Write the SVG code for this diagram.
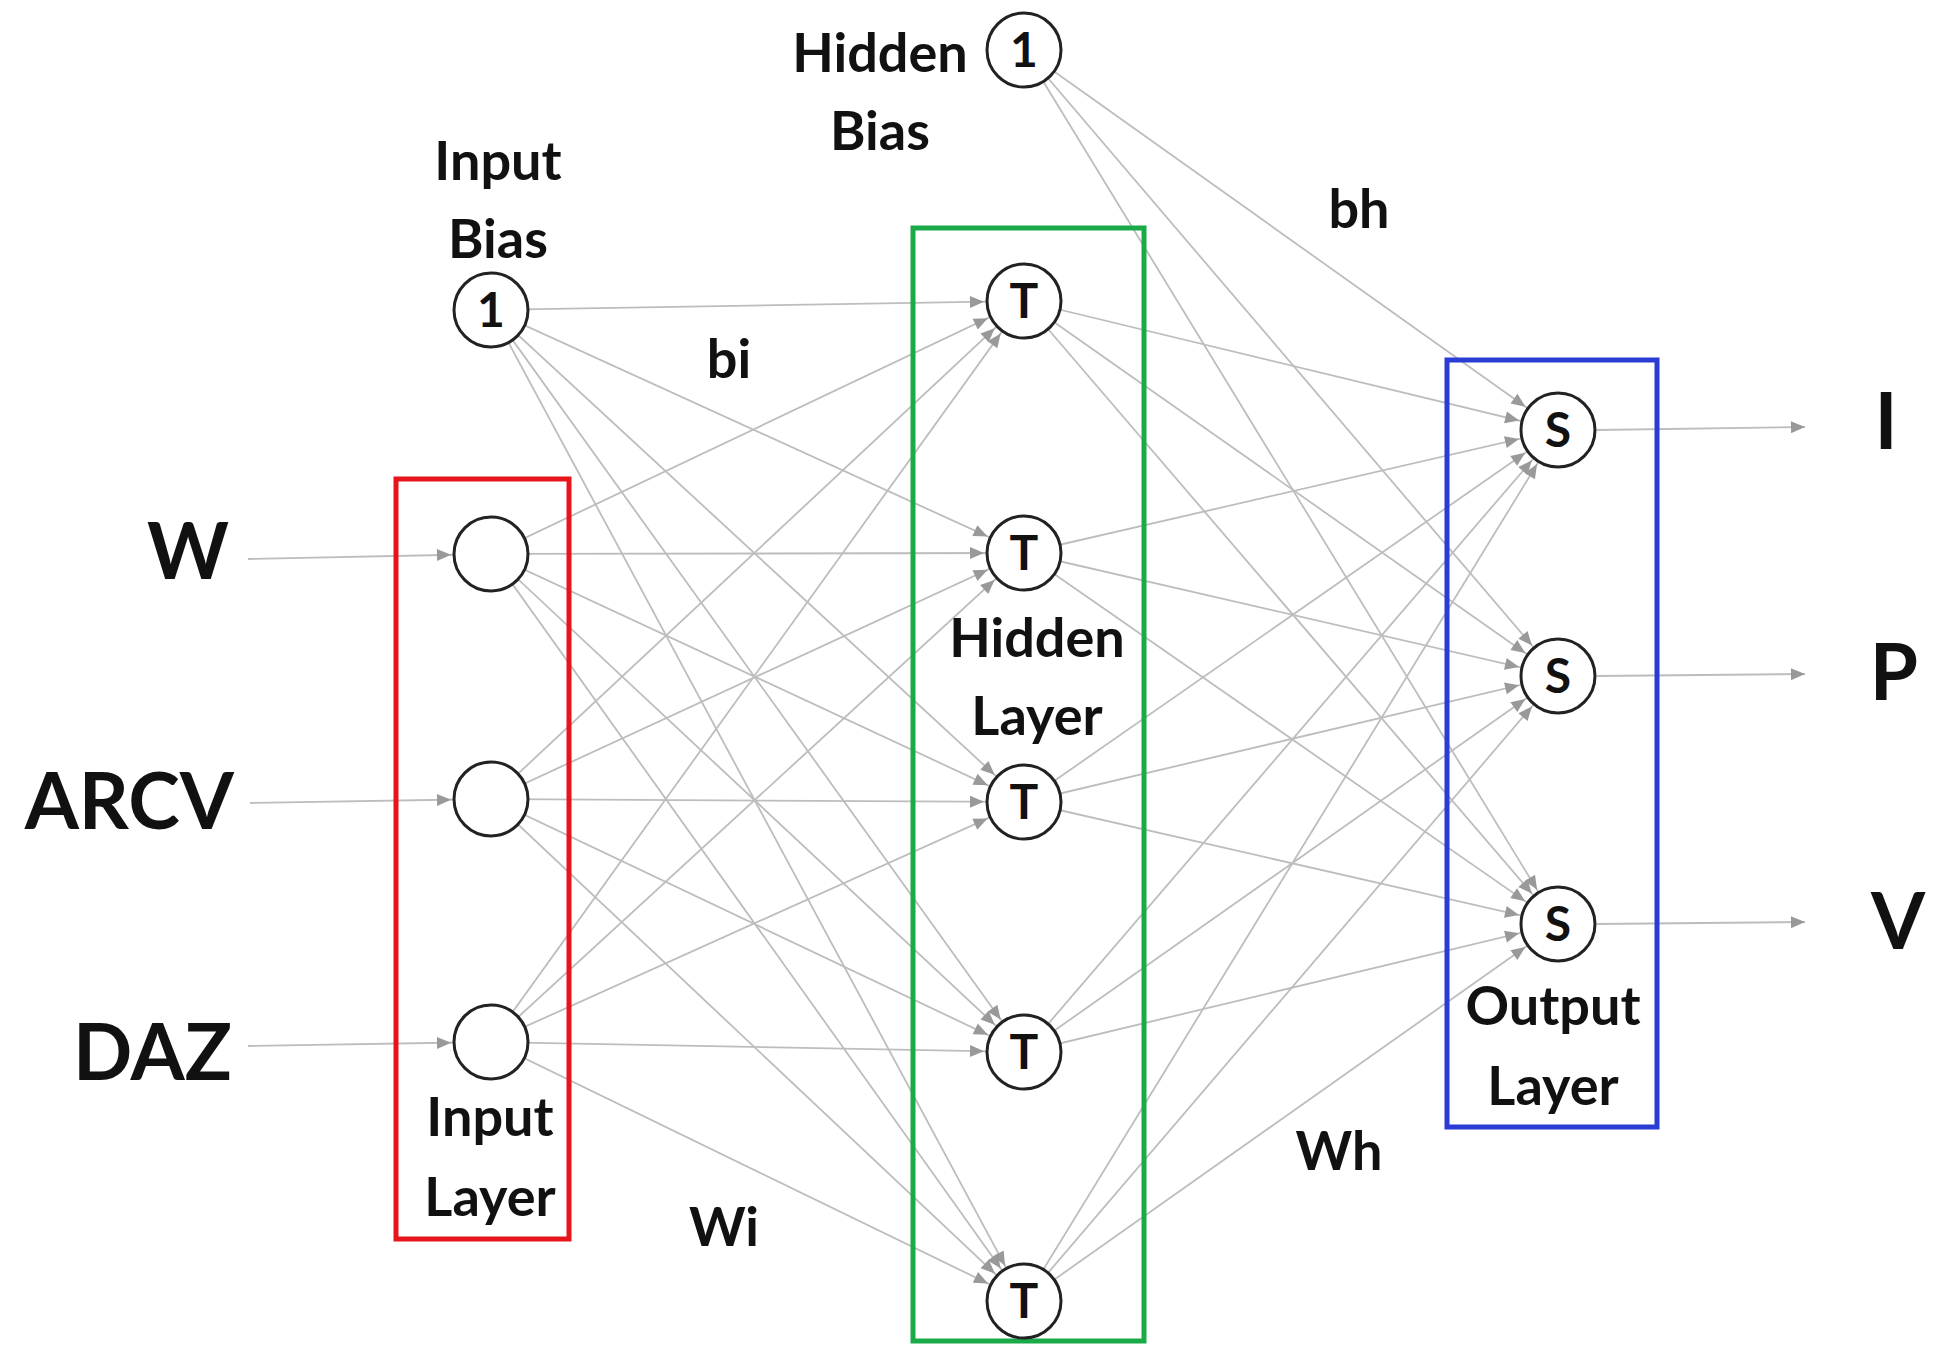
<svg xmlns="http://www.w3.org/2000/svg" width="1941" height="1356" viewBox="0 0 1941 1356">
<style>
.c{stroke:#bdbdbd;stroke-width:1.8;fill:none}
.n{fill:#fff;stroke:#222;stroke-width:3}
.t{font-family:Lato,"Liberation Sans",sans-serif;font-weight:bold;fill:#111;text-anchor:middle}
.s{font-size:54px}
.big{font-size:78px}
.nt{font-size:48px}
</style>
<defs>
<marker id="a" markerUnits="userSpaceOnUse" orient="auto" refX="0" refY="0" markerWidth="120" markerHeight="30" viewBox="-60 -15 120 30" overflow="visible">
<path d="M-54,-6 L-40,0 L-54,6 z" fill="#999"/>
</marker>
<marker id="b" markerUnits="userSpaceOnUse" orient="auto" refX="0" refY="0" markerWidth="30" markerHeight="30" viewBox="-15 -15 30 30" overflow="visible">
<path d="M-14,-6 L0,0 L-14,6 z" fill="#999"/>
</marker>
</defs>
<rect x="0" y="0" width="1941" height="1356" fill="#fff"/>
<g id="connectors" class="c" marker-end="url(#a)">
<path d="M491,310L1024,301"/><path d="M491,310L1024,553"/><path d="M491,310L1024,802"/><path d="M491,310L1024,1052"/><path d="M491,310L1024,1301"/>
<path d="M491,554L1024,301"/><path d="M491,554L1024,553"/><path d="M491,554L1024,802"/><path d="M491,554L1024,1052"/><path d="M491,554L1024,1301"/>
<path d="M491,799L1024,301"/><path d="M491,799L1024,553"/><path d="M491,799L1024,802"/><path d="M491,799L1024,1052"/><path d="M491,799L1024,1301"/>
<path d="M491,1042L1024,301"/><path d="M491,1042L1024,553"/><path d="M491,1042L1024,802"/><path d="M491,1042L1024,1052"/><path d="M491,1042L1024,1301"/>
<path d="M1024,50L1558,430"/><path d="M1024,50L1558,676"/><path d="M1024,50L1558,924"/>
<path d="M1024,301L1558,430"/><path d="M1024,301L1558,676"/><path d="M1024,301L1558,924"/>
<path d="M1024,553L1558,430"/><path d="M1024,553L1558,676"/><path d="M1024,553L1558,924"/>
<path d="M1024,802L1558,430"/><path d="M1024,802L1558,676"/><path d="M1024,802L1558,924"/>
<path d="M1024,1052L1558,430"/><path d="M1024,1052L1558,676"/><path d="M1024,1052L1558,924"/>
<path d="M1024,1301L1558,430"/><path d="M1024,1301L1558,676"/><path d="M1024,1301L1558,924"/>
<path d="M248,559L491,554"/><path d="M250,803L491,799"/><path d="M248,1046L491,1042"/>
<path d="M1597,430L1805,427" marker-end="url(#b)"/><path d="M1597,676L1805,674" marker-end="url(#b)"/><path d="M1597,924L1805,922" marker-end="url(#b)"/>
</g>
<rect x="396" y="479" width="173" height="760" fill="none" stroke="#e8141c" stroke-width="5"/>
<rect x="913" y="228" width="231" height="1113" fill="none" stroke="#1aaa48" stroke-width="5"/>
<rect x="1447" y="360" width="210" height="767" fill="none" stroke="#2b3bd6" stroke-width="5"/>
<g id="input-bias"><circle class="n" cx="491" cy="310" r="37"/><text class="t nt" x="491" y="327">1</text></g>
<g id="in1"><circle class="n" cx="491" cy="554" r="37"/></g>
<g id="in2"><circle class="n" cx="491" cy="799" r="37"/></g>
<g id="in3"><circle class="n" cx="491" cy="1042" r="37"/></g>
<g id="hidden-bias"><circle class="n" cx="1024" cy="50" r="37"/><text class="t nt" x="1024" y="67">1</text></g>
<g id="h1"><circle class="n" cx="1024" cy="301" r="37"/><text class="t nt" x="1024" y="318">T</text></g>
<g id="h2"><circle class="n" cx="1024" cy="553" r="37"/><text class="t nt" x="1024" y="570">T</text></g>
<g id="h3"><circle class="n" cx="1024" cy="802" r="37"/><text class="t nt" x="1024" y="819">T</text></g>
<g id="h4"><circle class="n" cx="1024" cy="1052" r="37"/><text class="t nt" x="1024" y="1069">T</text></g>
<g id="h5"><circle class="n" cx="1024" cy="1301" r="37"/><text class="t nt" x="1024" y="1318">T</text></g>
<g id="o1"><circle class="n" cx="1558" cy="430" r="37"/><text class="t nt" x="1558" y="447">S</text></g>
<g id="o2"><circle class="n" cx="1558" cy="676" r="37"/><text class="t nt" x="1558" y="693">S</text></g>
<g id="o3"><circle class="n" cx="1558" cy="924" r="37"/><text class="t nt" x="1558" y="941">S</text></g>
<g id="labels">
<text class="t big" x="229" y="579" style="text-anchor:end">W</text>
<text class="t big" x="234" y="829" style="text-anchor:end">ARCV</text>
<text class="t big" x="232" y="1080" style="text-anchor:end">DAZ</text>
<text class="t big" x="1886" y="449">I</text>
<text class="t big" x="1894" y="700">P</text>
<text class="t big" x="1898" y="949">V</text>
<text class="t s" x="498" y="180">Input</text>
<text class="t s" x="498" y="258">Bias</text>
<text class="t s" x="880" y="72">Hidden</text>
<text class="t s" x="880" y="150">Bias</text>
<text class="t s" x="729" y="378">bi</text>
<text class="t s" x="1359" y="228">bh</text>
<text class="t s" x="1037" y="657">Hidden</text>
<text class="t s" x="1037" y="735">Layer</text>
<text class="t s" x="490" y="1136">Input</text>
<text class="t s" x="490" y="1216">Layer</text>
<text class="t s" x="724" y="1246">Wi</text>
<text class="t s" x="1339" y="1170">Wh</text>
<text class="t s" x="1553" y="1025">Output</text>
<text class="t s" x="1553" y="1105">Layer</text>
</g>
</svg>
